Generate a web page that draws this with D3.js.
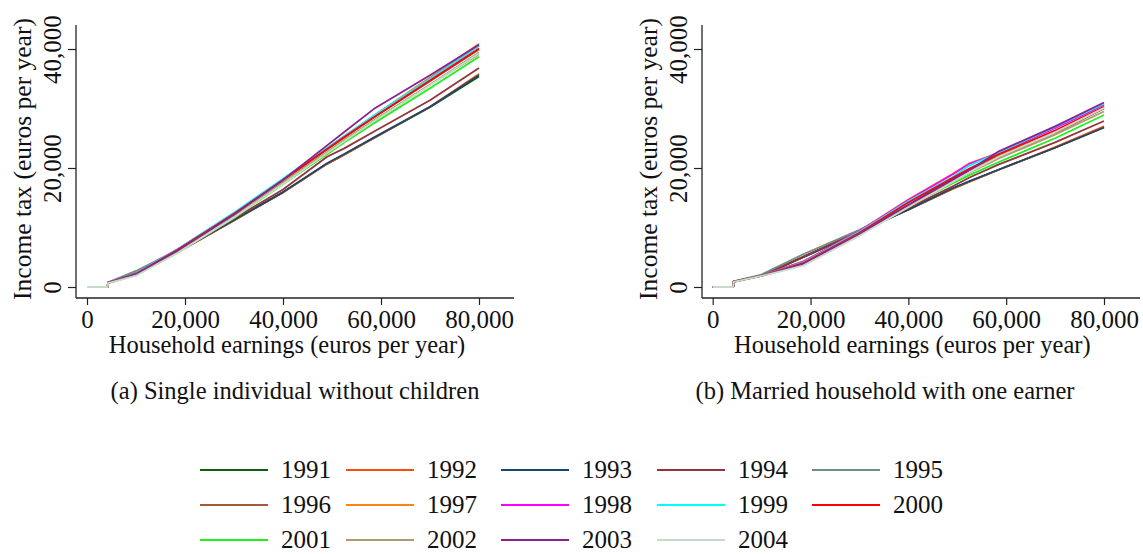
<!DOCTYPE html>
<html>
<head>
<meta charset="utf-8">
<script src="https://d3js.org/d3.v7.min.js"></script>
<style>
  body { margin: 0; background: white; }
  svg text { font-family: 'Liberation Serif', 'Times New Roman', serif; fill: #111; }
</style>
</head>
<body>
<svg id="chart" width="1143" height="554"></svg>
<script>
// earnings grid (euros per year), shared by every series
const earnings = [0, 4200, 4300, 10000, 18500, 30000, 40000, 49000, 52500, 58500, 70000, 80000];

const years = ['1991', '1992', '1993', '1994', '1995', '1996', '1997',
               '1998', '1999', '2000', '2001', '2002', '2003', '2004'];
const colors = ['#0d5e0d', '#ff4a0e', '#1a476f', '#90353b', '#6e8f80', '#a55a36', '#ff8410',
                '#ff00ff', '#00ffff', '#ff0000', '#1ef01e', '#b09a6c', '#8e1f8e', '#c6dcc6'];

// (a) single individual without children - tax per year
const single = [
  [0, 0, 750, 2300, 5850, 11200, 15900, 20700, 22250, 25000, 30200, 35400],
  [0, 0, 750, 2300, 5850, 11200, 15900, 20700, 22250, 25000, 30300, 35800],
  [0, 0, 750, 2300, 5900, 11250, 15950, 20800, 22350, 25100, 30300, 35600],
  [0, 0, 750, 2350, 6050, 11500, 16400, 21900, 23300, 26100, 31400, 36800],
  [0, 0, 800, 2700, 6250, 12000, 17300, 22500, 24500, 27900, 34000, 39400],
  [0, 0, 700, 2300, 6250, 12300, 17900, 23100, 25100, 28500, 34600, 39900],
  [0, 0, 700, 2300, 6350, 12400, 18100, 23300, 25300, 28800, 35200, 40900],
  [0, 0, 700, 2300, 6350, 12400, 18100, 23300, 25300, 28700, 35000, 40600],
  [0, 0, 700, 2300, 6350, 12500, 18200, 23400, 25400, 28800, 35000, 40500],
  [0, 0, 700, 2200, 6250, 12300, 18000, 23200, 25200, 28500, 34700, 40100],
  [0, 0, 650, 2000, 5900, 11600, 17300, 22300, 24300, 27500, 33400, 38700],
  [0, 0, 650, 2100, 6000, 11900, 17600, 22700, 24700, 28000, 34000, 39100],
  [0, 0, 700, 2200, 6150, 12200, 18000, 23800, 26050, 29900, 35600, 40700],
  [0, 0, 650, 1900, 5700, 11700, 17300, 22500, 24500, 27800, 33900, 39300]
];

// (b) married household with one earner - tax per year
const married = [
  [0, 0, 900, 1900, 5000, 9300, 13000, 16500, 17700, 19700, 23400, 26800],
  [0, 0, 900, 1900, 5000, 9300, 13000, 16500, 17700, 19700, 23500, 27000],
  [0, 0, 900, 1900, 5000, 9300, 13000, 16600, 17800, 19750, 23400, 26800],
  [0, 0, 900, 1950, 5100, 9400, 13300, 16900, 18400, 20600, 24300, 27900],
  [0, 0, 950, 2100, 5500, 9600, 13700, 18300, 19600, 21800, 25800, 30000],
  [0, 0, 900, 1900, 4300, 9300, 14300, 18200, 19800, 22000, 26000, 30000],
  [0, 0, 900, 1900, 4200, 9400, 14700, 19000, 20800, 22600, 26800, 30700],
  [0, 0, 900, 1900, 4200, 9400, 14600, 18900, 20700, 22500, 26700, 30600],
  [0, 0, 900, 1900, 4100, 9300, 14400, 18500, 20400, 22600, 26900, 30800],
  [0, 0, 900, 1900, 4000, 9100, 14200, 18300, 19900, 22300, 26300, 30300],
  [0, 0, 850, 1850, 3700, 8800, 13600, 17400, 18800, 21000, 25000, 28900],
  [0, 0, 850, 1850, 3800, 8900, 13700, 17700, 19200, 21600, 25600, 29500],
  [0, 0, 900, 1900, 3900, 8900, 13800, 18000, 19600, 22800, 27000, 31000],
  [0, 0, 850, 1850, 3600, 8600, 13400, 17600, 19300, 21900, 26000, 30100]
];

const xTicks = [0, 20000, 40000, 60000, 80000];
const yTicks = [0, 20000, 40000];

const svg = d3.select('#chart');
const fmt = d3.format(',');

const panels = [
  { data: single, left: 76, right: 514, x0: 87, x80: 479, caption: '(a) Single individual without children', capX: 295 },
  { data: married, left: 702, right: 1140, x0: 712.7, x80: 1104, caption: '(b) Married household with one earner', capX: 885 }
];

const plotTop = 25, plotBottom = 298;
const y = d3.scaleLinear().domain([0, 40000]).range([287, 49]);

panels.forEach(function (p) {
  const x = d3.scaleLinear().domain([0, 80000]).range([p.x0, p.x80]);
  const g = svg.append('g');

  // series
  const line = d3.line().x((d, i) => x(earnings[i])).y(d => y(d));
  p.data.forEach(function (vals, k) {
    g.append('path')
      .attr('d', line(vals))
      .attr('fill', 'none')
      .attr('stroke', colors[k])
      .attr('stroke-width', 1.8)
      .attr('stroke-linejoin', 'round');
  });

  // y axis
  const yAxis = g.append('g')
    .attr('transform', 'translate(' + p.left + ',0)')
    .call(d3.axisLeft(y).tickValues(yTicks).tickSize(8).tickFormat(fmt));
  yAxis.select('.domain').remove();
  yAxis.selectAll('line').attr('stroke', '#222').attr('stroke-width', 1.2);
  yAxis.selectAll('text')
    .attr('x', null).attr('dy', null)
    .attr('transform', 'translate(-15,0) rotate(-90)')
    .attr('text-anchor', 'middle')
    .attr('font-size', 25)
    .attr('fill', '#111');
  g.append('line')
    .attr('x1', p.left).attr('x2', p.left).attr('y1', plotTop).attr('y2', plotBottom)
    .attr('stroke', '#222').attr('stroke-width', 1.3);

  // x axis
  const xAxis = g.append('g')
    .attr('transform', 'translate(0,' + plotBottom + ')')
    .call(d3.axisBottom(x).tickValues(xTicks).tickSize(7).tickFormat(fmt));
  xAxis.select('.domain').remove();
  xAxis.selectAll('line').attr('stroke', '#222').attr('stroke-width', 1.2);
  xAxis.selectAll('text')
    .attr('y', 30).attr('dy', null)
    .attr('font-size', 25)
    .attr('fill', '#111');
  g.append('line')
    .attr('x1', p.left).attr('x2', p.right).attr('y1', plotBottom).attr('y2', plotBottom)
    .attr('stroke', '#222').attr('stroke-width', 1.3);

  // titles
  g.append('text')
    .attr('transform', 'translate(' + (p.left - 45) + ',' + 159 + ') rotate(-90)')
    .attr('text-anchor', 'middle')
    .attr('font-size', 25.5)
    .text('Income tax (euros per year)');
  g.append('text')
    .attr('x', (p.x0 + p.x80) / 2 + 4).attr('y', 353)
    .attr('text-anchor', 'middle')
    .attr('font-size', 24.5)
    .text('Household earnings (euros per year)');
  g.append('text')
    .attr('x', p.capX).attr('y', 399)
    .attr('text-anchor', 'middle')
    .attr('font-size', 24.5)
    .text(p.caption);
});

// legend
const legCols = [200, 346, 501, 657, 812];
const legRows = [470, 505, 540];
const leg = svg.append('g');
years.forEach(function (yr, i) {
  const cx = legCols[i % 5], cy = legRows[Math.floor(i / 5)];
  leg.append('line')
    .attr('x1', cx).attr('x2', cx + 68).attr('y1', cy).attr('y2', cy)
    .attr('stroke', colors[i]).attr('stroke-width', 2);
  leg.append('text')
    .attr('x', cx + 81).attr('y', cy + 8)
    .attr('font-size', 25)
    .text(yr);
});
</script>
</body>
</html>
